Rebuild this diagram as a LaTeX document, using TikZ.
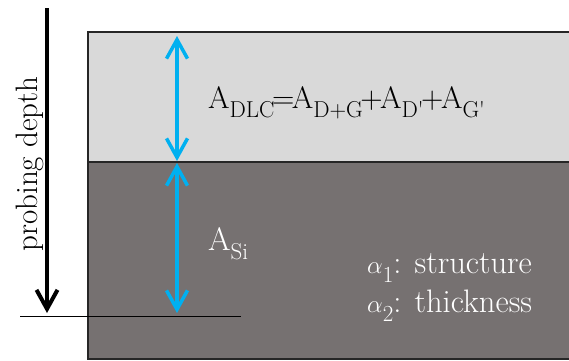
\documentclass[tikz,border=0pt]{standalone}
\usetikzlibrary{arrows.meta}
\definecolor{lightlayer}{HTML}{D9D9D9}
\definecolor{darklayer}{HTML}{767171}
\definecolor{cyanarrow}{HTML}{00B0F0}
\newcommand{\lsub}[1]{\raisebox{-0.3em}{\fontsize{23}{23}\selectfont #1}}
\newcommand{\apos}{\textquotesingle}
\newcommand{\galpha}{\ensuremath{\alpha}}
\newcommand{\teq}{\kern-2.5pt=\kern-2.5pt}
\newcommand{\tplus}{\kern-2.5pt+\kern-2.5pt}
\begin{document}
\begin{tikzpicture}[x=1pt,y=-1pt,
  layer/.style={draw=black!85,line width=1.5pt},
  probe/.style={line width=4pt,-{Straight Barb[length=19pt,width=21pt]}},
  measure/.style={cyanarrow,line width=3.5pt,{Straight Barb[length=19pt,width=21pt]}-{Straight Barb[length=19pt,width=21pt]}},
  lbl/.style={anchor=base west,inner sep=0pt,font=\fontsize{31}{37}\selectfont},
  wlbl/.style={lbl,white,font=\fontsize{32.5}{39}\selectfont}]
\useasboundingbox (0,0) rectangle (569,360);
% layers
\fill[darklayer] (88,162) rectangle (575,359);
\fill[lightlayer] (88,32) rectangle (575,162);
\draw[layer] (575,32) -- (88,32) -- (88,359) -- (575,359);
\draw[layer] (88,162) -- (575,162);
% probing depth arrow
\coordinate (pstart) at (47,8);
\coordinate (pend) at (47,313);
\draw[probe] (pstart) -- (pend);
\node[anchor=base,rotate=90,inner sep=0pt,font=\fontsize{31}{37}\selectfont] (plabel) at (37,164) {probing depth};
% depth line
\coordinate (dl) at (20,316);
\coordinate (dr) at (241,316);
\draw[line width=1pt] (dl) -- (dr);
% measuring arrows
\coordinate (t1) at (177,36);
\coordinate (m1) at (177,161);
\coordinate (m2) at (177,163);
\coordinate (b2) at (177,313);
\draw[measure] (t1) -- (m1);
\draw[measure] (m2) -- (b2);
% labels
\node[lbl] (adlc) at (208,108) {A\lsub{DLC}\teq A\lsub{D+G}\tplus A\lsub{D\apos}\tplus A\lsub{G\apos}};
\node[wlbl] (asi) at (208,250) {A\lsub{Si}};
\node[wlbl] (alpha1) at (367,273) {\galpha\lsub{1}: structure};
\node[wlbl] (alpha2) at (367,312) {\galpha\lsub{2}: thickness};
\end{tikzpicture}
\end{document}
